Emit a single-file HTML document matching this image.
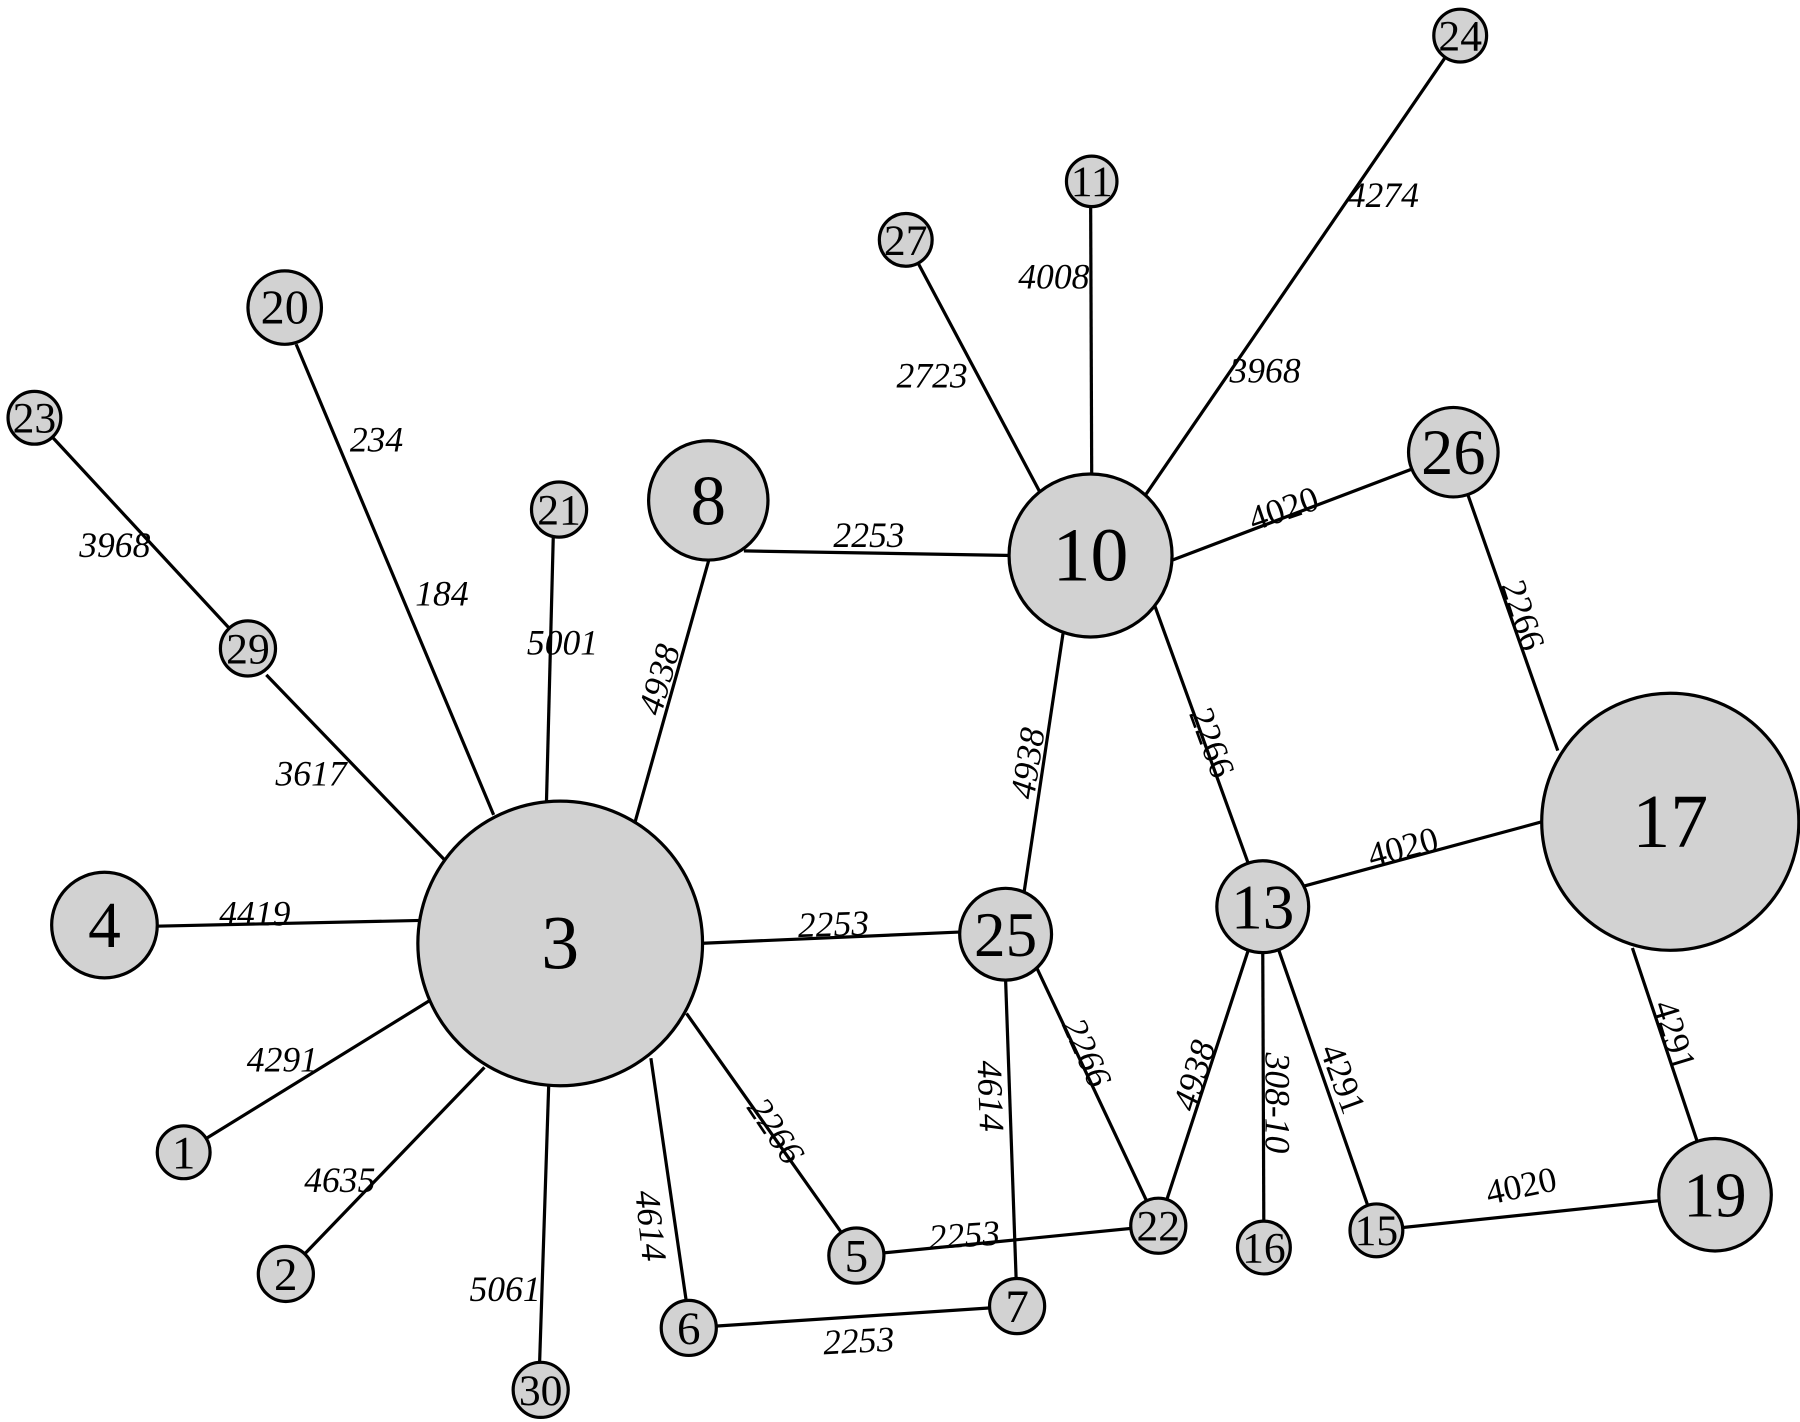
<!DOCTYPE html>
<html><head><meta charset="utf-8"><style>
html,body{margin:0;padding:0;background:#fff;}
svg{display:block;}
text{font-family:"Liberation Serif","DejaVu Serif",serif;fill:#000;}
.e{font-size:31px;font-style:italic;}
.u{font-size:31px;}
.n{font-size:38px;}
</style></head><body>
<svg width="1800" height="1422" viewBox="0 0 1568 1239" preserveAspectRatio="none" xmlns="http://www.w3.org/2000/svg">
<rect width="1568" height="1239" fill="#fff"/>
<g stroke="#000" stroke-width="2.8" fill="none">
<line x1="30" y1="364" x2="216" y2="565"/>
<line x1="258" y1="300" x2="430" y2="710"/>
<line x1="232" y1="588" x2="388" y2="750"/>
<line x1="482" y1="466" x2="476" y2="700"/>
<line x1="618" y1="486" x2="553" y2="717"/>
<line x1="136" y1="807" x2="366" y2="802"/>
<line x1="178" y1="993" x2="374" y2="872"/>
<line x1="266" y1="1092" x2="422" y2="930"/>
<line x1="470" y1="1189" x2="478" y2="945"/>
<line x1="598" y1="1135" x2="567" y2="922"/>
<line x1="733" y1="1074" x2="598" y2="883"/>
<line x1="610" y1="822" x2="838" y2="812"/>
<line x1="648" y1="480" x2="882" y2="484"/>
<line x1="789" y1="209" x2="906" y2="429"/>
<line x1="950" y1="158" x2="951" y2="415"/>
<line x1="1272" y1="31" x2="996" y2="434"/>
<line x1="1016" y1="490" x2="1266" y2="395"/>
<line x1="926" y1="552" x2="892" y2="778"/>
<line x1="1006" y1="528" x2="1088" y2="754"/>
<line x1="1266" y1="395" x2="1357" y2="654"/>
<line x1="1136" y1="772" x2="1347" y2="715"/>
<line x1="1422" y1="826" x2="1494" y2="1041"/>
<line x1="1088" y1="826" x2="1009" y2="1068"/>
<line x1="1100" y1="828" x2="1101" y2="1087"/>
<line x1="1114" y1="828" x2="1199" y2="1072"/>
<line x1="1199" y1="1072" x2="1494" y2="1041"/>
<line x1="903" y1="843" x2="1009" y2="1068"/>
<line x1="876" y1="854" x2="886" y2="1138"/>
<line x1="746" y1="1094" x2="1009" y2="1068"/>
<line x1="600" y1="1157" x2="886" y2="1138"/>
</g>
<g fill="#d2d2d2" stroke="#000" stroke-width="2.8">
<circle cx="1272" cy="31" r="23"/>
<circle cx="951" cy="158" r="22"/>
<circle cx="789" cy="209" r="23"/>
<circle cx="248" cy="268" r="32"/>
<circle cx="30" cy="364" r="23"/>
<circle cx="1266" cy="394" r="39"/>
<circle cx="617" cy="436" r="52"/>
<circle cx="487" cy="444" r="24"/>
<circle cx="950" cy="484" r="71"/>
<circle cx="216" cy="565" r="24"/>
<circle cx="1455" cy="716" r="112"/>
<circle cx="91" cy="806" r="46"/>
<circle cx="488" cy="822" r="124"/>
<circle cx="876" cy="814" r="40"/>
<circle cx="1100" cy="790" r="40"/>
<circle cx="160" cy="1004" r="23"/>
<circle cx="249" cy="1110" r="24"/>
<circle cx="746" cy="1094" r="24"/>
<circle cx="1009" cy="1068" r="24"/>
<circle cx="1101" cy="1087" r="23"/>
<circle cx="1199" cy="1072" r="23"/>
<circle cx="1494" cy="1041" r="49"/>
<circle cx="600" cy="1157" r="24"/>
<circle cx="886" cy="1138" r="24"/>
<circle cx="471" cy="1211" r="24"/>
</g>
<g text-anchor="middle">
<text class="n" x="1272" y="44">24</text>
<text class="n" x="951" y="171">11</text>
<text class="n" x="789" y="222">27</text>
<text style="font-size:42px" x="248" y="282">20</text>
<text class="n" x="30" y="377">23</text>
<text style="font-size:56px" x="1266" y="413">26</text>
<text style="font-size:62px" x="617" y="457">8</text>
<text class="n" x="487" y="457">21</text>
<text style="font-size:66px" x="950" y="506">10</text>
<text class="n" x="216" y="578">29</text>
<text style="font-size:66px" x="1455" y="738">17</text>
<text style="font-size:57px" x="91" y="825">4</text>
<text style="font-size:66px" x="488" y="844">3</text>
<text style="font-size:55px" x="876" y="833">25</text>
<text style="font-size:55px" x="1100" y="809">13</text>
<text style="font-size:41px" x="160" y="1018">1</text>
<text style="font-size:41px" x="249" y="1124">2</text>
<text style="font-size:41px" x="746" y="1108">5</text>
<text class="n" x="1009" y="1081">22</text>
<text class="n" x="1101" y="1100">16</text>
<text class="n" x="1199" y="1085">15</text>
<text style="font-size:55px" x="1494" y="1060">19</text>
<text style="font-size:41px" x="600" y="1171">6</text>
<text style="font-size:41px" x="886" y="1152">7</text>
<text class="n" x="471" y="1224">30</text>
</g>
<g text-anchor="middle" dominant-baseline="central">
<text class="e" x="100" y="475">3968</text>
<text class="e" x="328" y="383">234</text>
<text class="e" x="385" y="517">184</text>
<text class="e" x="490" y="560">5001</text>
<text class="e" x="271" y="674">3617</text>
<text class="e" x="222" y="796">4419</text>
<text class="e" x="246" y="923">4291</text>
<text class="e" x="296" y="1028">4635</text>
<text class="e" x="440" y="1123">5061</text>
<text class="e" transform="translate(567,1068) rotate(84)">4614</text>
<text class="e" transform="translate(676,985) rotate(56)">2266</text>
<text class="e" transform="translate(840,1076) rotate(-4)">2253</text>
<text class="e" transform="translate(748,1168) rotate(-3)">2253</text>
<text class="e" transform="translate(863,955) rotate(88)">4614</text>
<text class="e" transform="translate(947,917) rotate(66)">2266</text>
<text class="e" transform="translate(1040,937) rotate(-73)">4938</text>
<text class="e" transform="translate(1113,961) rotate(90)">308-10</text>
<text class="u" transform="translate(1170,940) rotate(70)">4291</text>
<text class="u" transform="translate(1459,902) rotate(73)">4291</text>
<text class="u" transform="translate(1325,1033) rotate(-12)">4020</text>
<text class="u" transform="translate(1222,738) rotate(-15)">4020</text>
<text class="u" transform="translate(1118,443) rotate(-19)">4020</text>
<text class="u" transform="translate(1327,536) rotate(72)">2266</text>
<text class="u" transform="translate(1056,647) rotate(70)">2266</text>
<text class="e" transform="translate(895,665) rotate(-81)">4938</text>
<text class="e" transform="translate(574,592) rotate(-74)">4938</text>
<text class="e" transform="translate(757,466) rotate(0)">2253</text>
<text class="e" transform="translate(726,805) rotate(-2)">2253</text>
<text class="e" x="812" y="327">2723</text>
<text class="e" x="918" y="241">4008</text>
<text class="e" x="1205" y="170">4274</text>
<text class="e" x="1102" y="323">3968</text>
</g>
</svg>
</body></html>
